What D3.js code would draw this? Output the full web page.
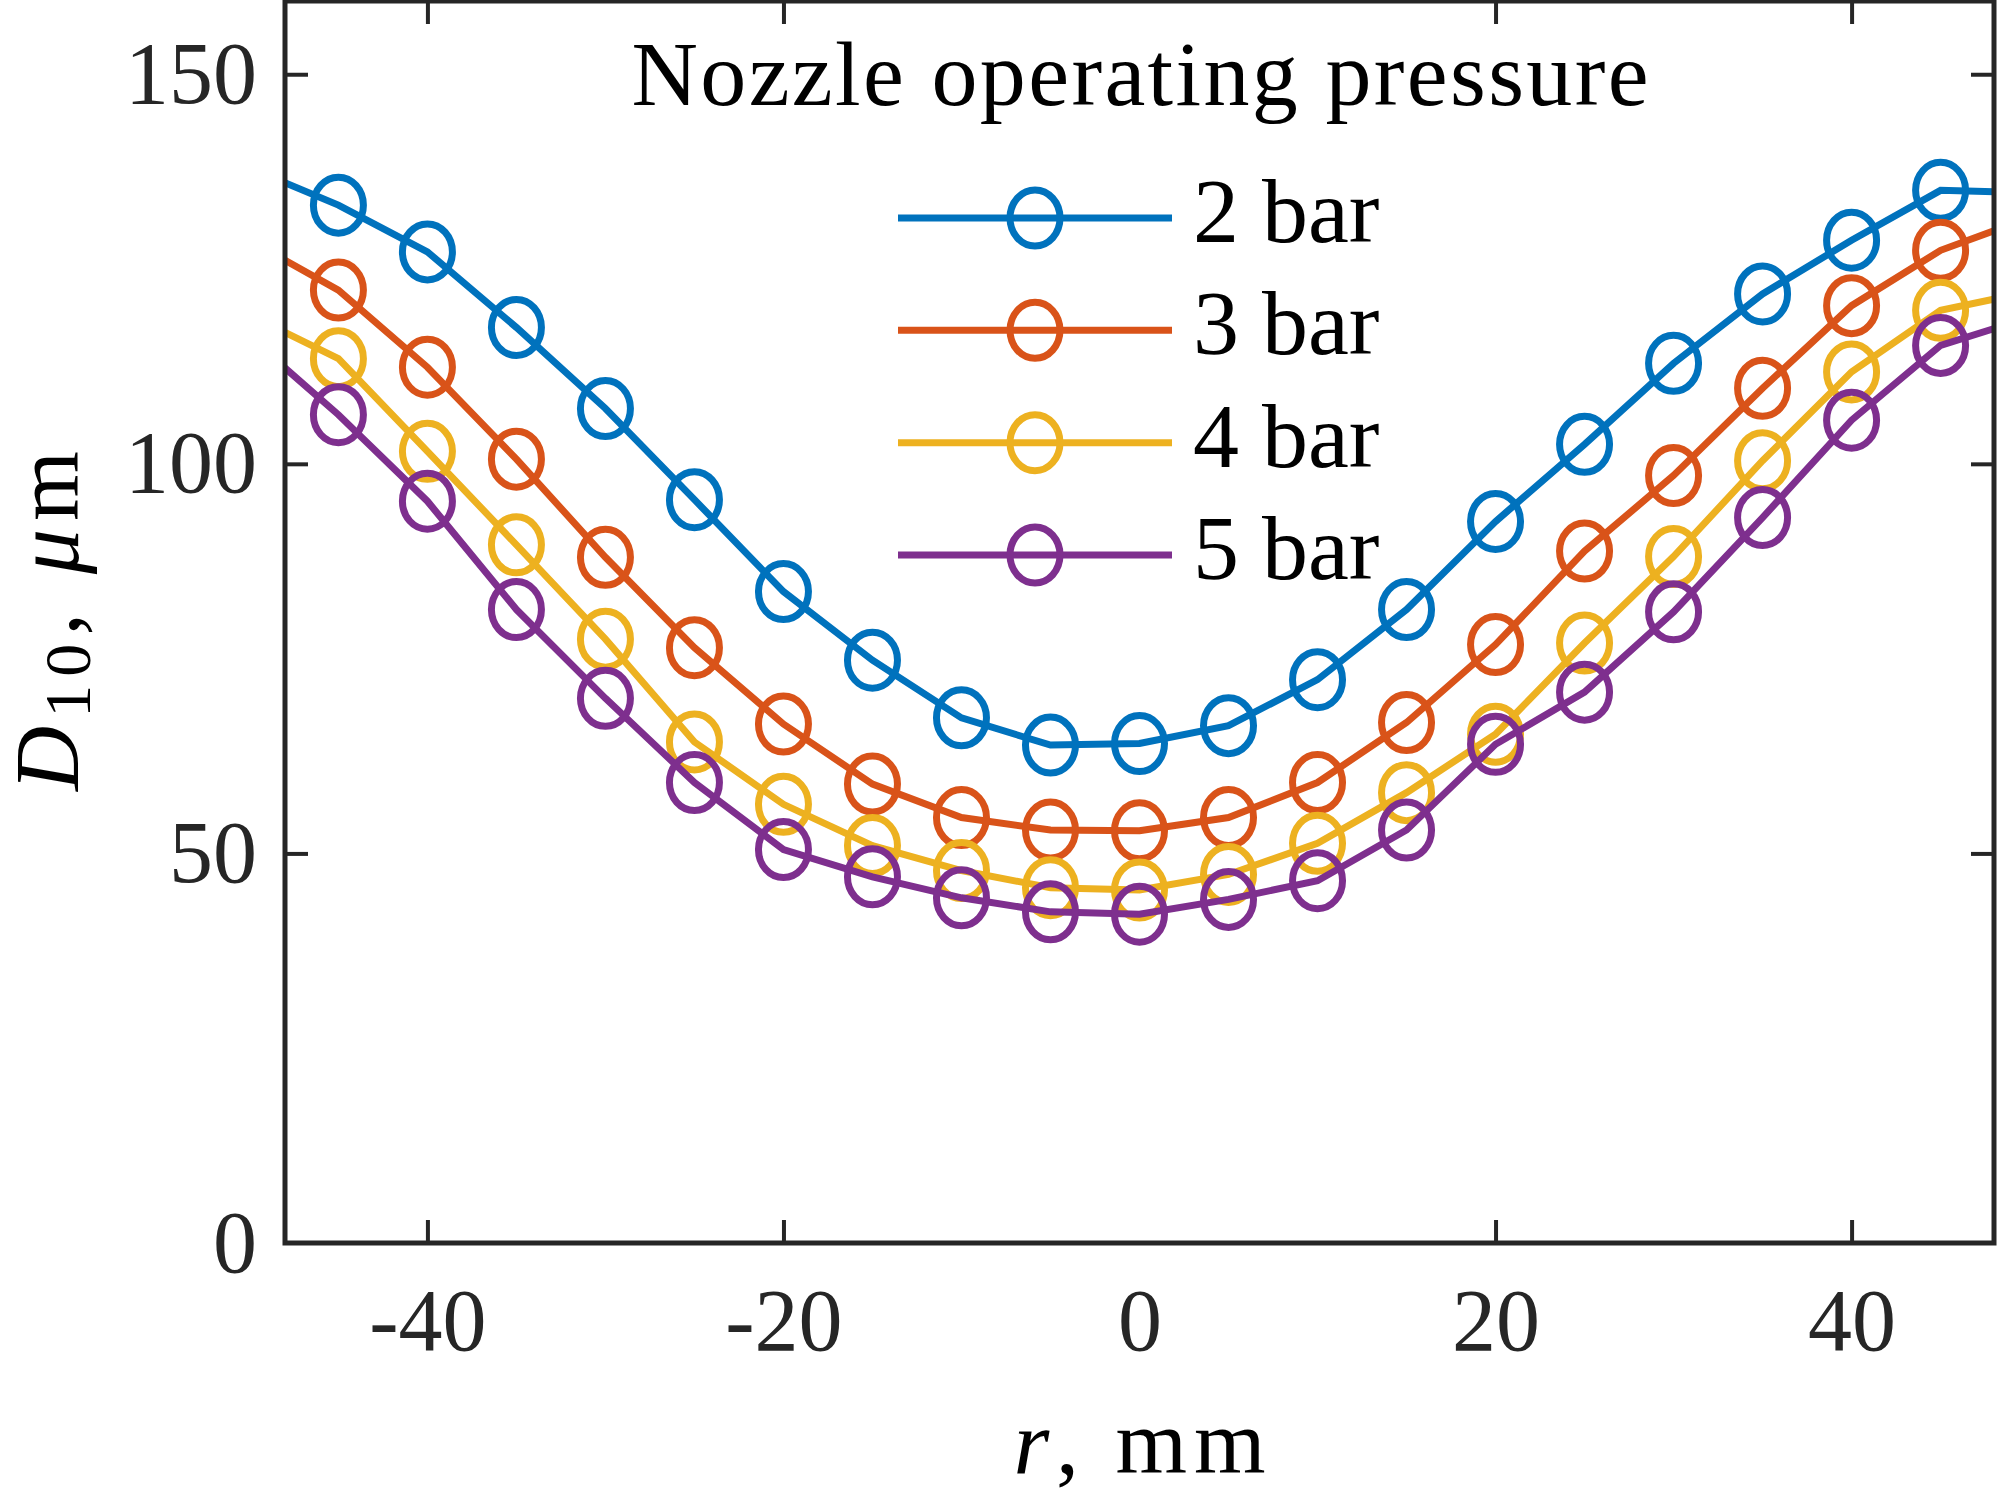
<!DOCTYPE html>
<html>
<head>
<meta charset="utf-8">
<script src="https://d3js.org/d3.v7.min.js"></script>
<style>
  body { margin: 0; background: #fff; }
  text { font-family: "Liberation Serif", "DejaVu Serif", serif; fill: #000; }
  .axis .domain { display: none; }
  .axis line { stroke: #262626; stroke-width: 4; }
  .axis text { font-size: 88px; fill: #262626; font-family: "Liberation Serif", serif; }
</style>
</head>
<body>
<svg id="graph" width="2000" height="1493" style="background:#fff"></svg>
<script>
// radial position r (mm); the points at +-50 fall outside the axes and are clipped
const rValues = [-50, -45, -40, -35, -30, -25, -20, -15, -10, -5, 0, 5, 10, 15, 20, 25, 30, 35, 40, 45, 50];
const d2bar = [138.0, 133.2, 127.2, 117.5, 107.1, 95.4, 83.6, 74.8, 67.4, 63.9, 64.1, 66.4, 72.3, 81.3, 92.6, 102.5, 112.9, 121.8, 128.7, 135.1, 134.8];
const d3bar = [128.7, 122.3, 112.4, 100.6, 88.0, 76.4, 66.6, 58.9, 54.6, 53.0, 52.9, 54.6, 59.1, 66.8, 76.8, 88.8, 98.5, 109.7, 120.3, 127.4, 131.6];
const d4bar = [119.1, 113.5, 101.6, 89.6, 77.5, 64.3, 56.3, 51.0, 47.8, 45.6, 45.3, 47.3, 51.3, 57.8, 65.3, 77.0, 88.1, 100.4, 111.8, 119.7, 122.1];
const d5bar = [116.3, 106.3, 95.2, 81.3, 69.9, 59.1, 50.5, 47.0, 44.3, 42.5, 42.2, 44.1, 46.5, 53.0, 64.0, 70.7, 81.0, 93.1, 105.6, 115.2, 118.8];

const seriesNames = ["2 bar", "3 bar", "4 bar", "5 bar"];
const seriesColors = ["#0072BD", "#D95319", "#EDB120", "#7E2F8E"];
const xTicks = [-40, -20, 0, 20, 40];
const yTicks = [0, 50, 100, 150];
const legendTitle = "Nozzle operating pressure";

const svg = d3.select("#graph");
const plot = { left: 285, right: 1994, top: 1, bottom: 1243 };

const xScale = d3.scaleLinear().domain([-48, 48]).range([plot.left, plot.right]);
const yScale = d3.scaleLinear().domain([0, 159.4]).range([plot.bottom, plot.top]);

const series = seriesNames.map((name, i) => ({
  name: name,
  color: seriesColors[i],
  values: rValues.map((r, j) => ({ r: r, d: [d2bar, d3bar, d4bar, d5bar][i][j] }))
}));

// clip for the data
svg.append("defs").append("clipPath").attr("id", "plotclip")
  .append("rect")
  .attr("x", plot.left).attr("y", plot.top)
  .attr("width", plot.right - plot.left).attr("height", plot.bottom - plot.top);

// data lines + open circle markers
const lineGen = d3.line()
  .x(d => xScale(d.r))
  .y(d => yScale(d.d));

const gTags = svg.append("g").attr("clip-path", "url(#plotclip)")
  .selectAll(".line-group")
  .data(series)
  .join("g")
  .attr("class", "line-group")
  .style("stroke", d => d.color);

gTags.append("path")
  .attr("d", d => lineGen(d.values))
  .attr("fill", "none")
  .attr("stroke-width", 7);

gTags.selectAll("ellipse")
  .data(d => d.values)
  .join("ellipse")
  .attr("cx", d => xScale(d.r))
  .attr("cy", d => yScale(d.d))
  .attr("rx", 25)
  .attr("ry", 28)
  .attr("fill", "none")
  .attr("stroke-width", 7);

// axes, ticks pointing inward on all four sides
const plain = d => String(d); // short hyphen like the original, not the unicode minus
svg.append("g").attr("class", "axis")
  .attr("transform", `translate(0,${plot.bottom})`)
  .call(d3.axisBottom(xScale).tickValues(xTicks).tickFormat(plain).tickSizeInner(-23).tickSizeOuter(0).tickPadding(45));

svg.append("g").attr("class", "axis")
  .attr("transform", `translate(0,${plot.top})`)
  .call(d3.axisTop(xScale).tickValues(xTicks).tickSizeInner(-23).tickSizeOuter(0).tickFormat(""));

svg.append("g").attr("class", "axis")
  .attr("transform", `translate(${plot.left},0)`)
  .call(d3.axisLeft(yScale).tickValues(yTicks).tickFormat(plain).tickSizeInner(-23).tickSizeOuter(0).tickPadding(28));

svg.append("g").attr("class", "axis")
  .attr("transform", `translate(${plot.right},0)`)
  .call(d3.axisRight(yScale).tickValues(yTicks).tickSizeInner(-23).tickSizeOuter(0).tickFormat(""));

// tick at 0 is on the frame, drop it
svg.selectAll(".axis .tick").filter(d => d === 0).select("line").remove();

// frame
svg.append("rect")
  .attr("x", plot.left).attr("y", plot.top)
  .attr("width", plot.right - plot.left).attr("height", plot.bottom - plot.top)
  .attr("fill", "none").attr("stroke", "#262626").attr("stroke-width", 5);

// axis labels
const xLab = svg.append("text")
  .attr("x", xScale(0)).attr("y", 1473)
  .attr("text-anchor", "middle")
  .attr("font-size", 92)
  .attr("textLength", 252)
  .attr("fill", "#262626");
xLab.append("tspan").attr("font-style", "italic").text("r");
xLab.append("tspan").text(", mm");

const yLab = svg.append("text")
  .attr("transform", "translate(78,621) rotate(-90)")
  .attr("text-anchor", "middle")
  .attr("font-size", 90)
  .attr("textLength", 340)
  .attr("fill", "#262626");
yLab.append("tspan").attr("font-style", "italic").text("D");
yLab.append("tspan").attr("font-size", 66).attr("dy", 12).text("10");
yLab.append("tspan").attr("dy", -12).text(", ");
yLab.append("tspan").attr("font-style", "italic").text("μ");
yLab.append("tspan").text("m");

// legend (no box)
svg.append("text")
  .attr("x", 1140).attr("y", 105)
  .attr("text-anchor", "middle")
  .attr("font-size", 92)
  .attr("textLength", 1017)
  .text(legendTitle);

const legendY = d3.scalePoint().domain(seriesNames).range([218, 555]);

const legend = svg.selectAll(".legend-item")
  .data(series)
  .join("g")
  .attr("class", "legend-item")
  .attr("transform", d => `translate(0,${legendY(d.name)})`);

legend.append("line")
  .attr("x1", 898).attr("x2", 1172)
  .attr("stroke", d => d.color).attr("stroke-width", 7);

legend.append("ellipse")
  .attr("cx", 1035).attr("cy", 0)
  .attr("rx", 25).attr("ry", 28)
  .attr("fill", "none")
  .attr("stroke", d => d.color).attr("stroke-width", 7);

legend.append("text")
  .attr("x", 1193).attr("y", 24)
  .attr("font-size", 92)
  .text(d => d.name);
</script>
</body>
</html>
